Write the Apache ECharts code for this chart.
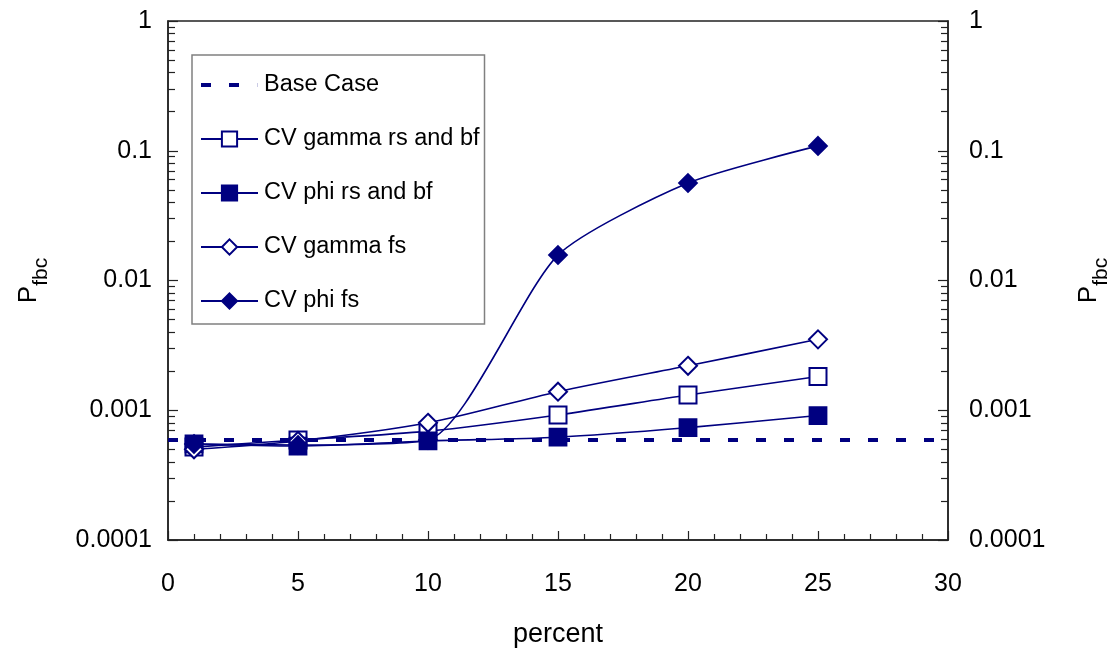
<!DOCTYPE html>
<html>
<head>
<meta charset="utf-8">
<title>P_fbc vs percent</title>
<script src="https://cdn.jsdelivr.net/npm/echarts@6/dist/echarts.min.js"></script>
<style>
  html, body { margin: 0; padding: 0; background: #fff; }
  #chart { width: 1111px; height: 649px; }
</style>
</head>
<body>
<div id="chart"></div>
<script>
// Coefficient of variation (percent) on the x axis
const percentValues = [1, 5, 10, 15, 20, 25];

// Probability of failure for each case
const baseCaseLevel = 0.00059;
const baseCaseX = [0, 30];
const cvGammaRsBf = [0.00052, 0.00059, 0.00069, 0.00092, 0.00131, 0.00182];
const cvPhiRsBf   = [0.00055, 0.00053, 0.00058, 0.00062, 0.000735, 0.00091];
const cvGammaFs   = [0.00050, 0.00058, 0.00080, 0.00139, 0.00220, 0.00352];
const cvPhiFs     = [0.00055, 0.00054, 0.00059, 0.0157, 0.0564, 0.109];

// Axis ticks and labels
const yMajorTicks = [0.0001, 0.001, 0.01, 0.1, 1];
const yTickLabels = ['0.0001', '0.001', '0.01', '0.1', '1'];
const xTickLabels = ['0', '5', '10', '15', '20', '25', '30'];

const seriesNames = ['Base Case', 'CV gamma rs and bf', 'CV phi rs and bf', 'CV gamma fs', 'CV phi fs'];

// Minor log ticks at 2..9 within each decade
const yMinorTicks = [];
for (let d = 0; d < yMajorTicks.length - 1; d++) {
  for (let k = 2; k <= 9; k++) yMinorTicks.push(+(yMajorTicks[d] * k).toPrecision(3));
}

const NAVY = '#000080';
const FONT = 'Liberation Sans, Arial, sans-serif';

const pairs = (ys) => percentValues.map((x, i) => [x, ys[i]]);

const yLabelFmt = (v) => {
  const idx = yMajorTicks.findIndex(t => Math.abs(Math.log10(t) - Math.log10(v)) < 1e-6);
  return idx >= 0 ? yTickLabels[idx] : '';
};

const yName = '{p|P}{s|fbc}';
const yNameRich = {
  p: { fontSize: 26, fontFamily: FONT, color: '#000', lineHeight: 26, verticalAlign: 'top' },
  s: { fontSize: 21, fontFamily: FONT, color: '#000', lineHeight: 36, verticalAlign: 'bottom' }
};

const mainY = (pos, nameGap, labelMargin) => ({
  type: 'log',
  logBase: 10,
  min: 0.0001,
  max: 1,
  position: pos,
  name: yName,
  nameLocation: 'middle',
  nameGap: nameGap,
  nameRotate: 90,
  nameTextStyle: { rich: yNameRich, fontFamily: FONT },
  axisLine: { show: true, lineStyle: { color: '#222', width: 1.5 } },
  axisTick: { show: true, inside: true, length: 10, lineStyle: { color: '#222', width: 1.2 } },
  minorTick: { show: false },
  axisLabel: { show: true, margin: labelMargin, fontSize: 25, fontFamily: FONT, color: '#000', formatter: yLabelFmt },
  splitLine: { show: false }
});

// Overlay axes that only carry the 2..9 minor ticks
const minorY = (pos) => ({
  type: 'log',
  logBase: 10,
  min: 0.0001,
  max: 1,
  position: pos,
  axisLine: { show: false },
  axisLabel: { show: false },
  splitLine: { show: false },
  axisTick: { show: true, inside: true, length: 7, customValues: yMinorTicks, lineStyle: { color: '#222', width: 1.2 } }
});

const lineSeries = (name, data, symbol, extra) => Object.assign({
  name: name,
  type: 'line',
  data: pairs(data),
  symbol: symbol,
  symbolSize: 17,
  smooth: 0.3,
  lineStyle: { color: NAVY, width: 1.6 },
  itemStyle: { color: NAVY, borderColor: NAVY, borderWidth: 1.8 },
  emphasis: { disabled: true },
  z: 3
}, extra || {});

const chart = echarts.init(document.getElementById('chart'), null, { renderer: 'canvas' });

chart.setOption({
  animation: false,
  backgroundColor: '#fff',
  grid: {
    left: 168, right: 163, top: 21, bottom: 109,
    outerBoundsMode: 'none',
    containLabel: false,
    show: true, borderColor: '#222', borderWidth: 1.5, backgroundColor: 'transparent'
  },
  legend: {
    orient: 'vertical',
    left: 192,
    top: 55,
    padding: [18, 5, 11, 8],
    itemWidth: 57,
    itemHeight: 19,
    itemGap: 30,
    borderColor: '#808080',
    borderWidth: 1.5,
    backgroundColor: '#fff',
    textStyle: { fontSize: 23.5, fontFamily: FONT, color: '#000', padding: [0, 0, 0, 1] },
    data: [
      { name: seriesNames[0], icon: 'path://M0,0H10V4H0Z M28,0H38V4H28Z M56.8,0H57V4H56.8Z' },
      seriesNames[1], seriesNames[2], seriesNames[3], seriesNames[4]
    ]
  },
  xAxis: {
    type: 'value',
    min: 0,
    max: 30,
    interval: 5,
    name: 'percent',
    nameLocation: 'middle',
    nameGap: 81,
    nameTextStyle: { fontSize: 27, fontFamily: FONT, color: '#000' },
    axisLine: { show: true, lineStyle: { color: '#222', width: 1.5 } },
    axisTick: { show: true, inside: true, length: 9, lineStyle: { color: '#222', width: 1.2 } },
    minorTick: { show: true, splitNumber: 5, length: 6, lineStyle: { color: '#222', width: 1.2 } },
    axisLabel: {
      margin: 32, fontSize: 25, fontFamily: FONT, color: '#000',
      formatter: (v) => xTickLabels[Math.round(v / 5)] ?? ''
    },
    splitLine: { show: false }
  },
  yAxis: [
    mainY('left', 116, 16),
    mainY('right', 128, 21),
    minorY('left'),
    minorY('right')
  ],
  series: [
    {
      name: seriesNames[0],
      type: 'line',
      data: baseCaseX.map(x => [x, baseCaseLevel]),
      symbol: 'none',
      lineStyle: { color: NAVY, width: 4, type: [10, 18] },
      itemStyle: { color: NAVY },
      emphasis: { disabled: true },
      z: 2
    },
    lineSeries(seriesNames[1], cvGammaRsBf, 'emptyRect'),
    lineSeries(seriesNames[2], cvPhiRsBf, 'rect'),
    lineSeries(seriesNames[3], cvGammaFs, 'emptyDiamond', { symbolSize: 18 }),
    lineSeries(seriesNames[4], cvPhiFs, 'diamond', { symbolSize: 18, smooth: 0.22 })
  ]
});
</script>
</body>
</html>
